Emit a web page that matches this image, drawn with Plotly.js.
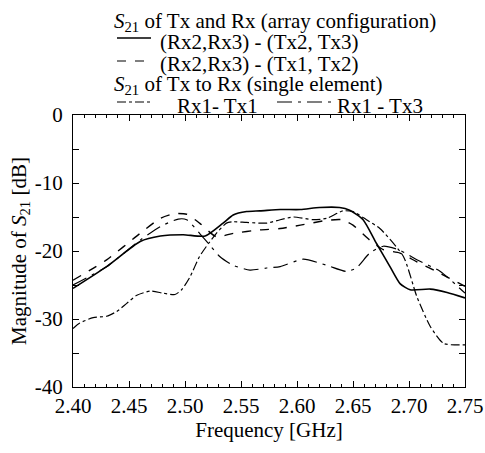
<!DOCTYPE html>
<html>
<head>
<meta charset="utf-8">
<script src="https://cdn.plot.ly/plotly-3.0.1.min.js"></script>
<style>html,body{margin:0;padding:0;background:#fff;}</style>
</head>
<body>
<div id="chart"></div>
<script>
// Frequency [GHz] and magnitudes [dB]
const freqTx23 = [2.400, 2.430, 2.460, 2.478, 2.4985, 2.518, 2.534, 2.543, 2.555, 2.567, 2.585, 2.603, 2.620, 2.638, 2.647, 2.659, 2.671, 2.683, 2.692, 2.701, 2.719, 2.734, 2.750];
const magTx23  = [-25.5, -22.3, -18.6, -17.8, -17.6, -17.8, -15.9, -14.7, -14.2, -14.1, -13.9, -13.9, -13.6, -13.6, -14.0, -15.4, -18.9, -22.3, -24.8, -25.7, -25.6, -26.1, -26.9];

const freqTx12 = [2.400, 2.430, 2.460, 2.478, 2.491, 2.5015, 2.513, 2.528, 2.543, 2.567, 2.585, 2.603, 2.6265, 2.640, 2.650, 2.665, 2.677, 2.692, 2.707, 2.728, 2.750];
const magTx12  = [-24.3, -21.3, -17.4, -15.2, -14.5, -14.6, -15.9, -17.9, -17.4, -16.9, -16.7, -16.2, -15.5, -15.4, -16.2, -18.4, -19.8, -20.3, -21.6, -23.3, -25.2];

const freqRx1Tx1 = [2.400, 2.406, 2.418, 2.430, 2.439, 2.448, 2.457, 2.469, 2.4806, 2.491, 2.497, 2.5045, 2.513, 2.521, 2.528, 2.537, 2.543, 2.555, 2.573, 2.585, 2.597, 2.6146, 2.6265, 2.641, 2.650, 2.662, 2.674, 2.695, 2.707, 2.719, 2.731, 2.750];
const magRx1Tx1  = [-31.4, -30.6, -29.8, -29.6, -28.9, -27.7, -26.5, -25.9, -26.2, -26.4, -25.7, -23.8, -20.8, -18.9, -17.4, -15.9, -15.7, -15.8, -15.9, -15.4, -15.0, -15.4, -15.2, -14.1, -14.2, -15.4, -16.7, -20.8, -26.7, -31.1, -33.6, -33.8];

const freqRx1Tx3 = [2.400, 2.430, 2.460, 2.478, 2.494, 2.5015, 2.513, 2.521, 2.531, 2.543, 2.558, 2.573, 2.585, 2.6056, 2.6265, 2.644, 2.653, 2.665, 2.677, 2.692, 2.707, 2.728, 2.750];
const magRx1Tx3  = [-25.0, -22.3, -18.4, -16.4, -15.3, -15.4, -17.4, -18.9, -20.8, -22.1, -22.8, -22.5, -22.3, -21.2, -22.1, -23.0, -22.5, -20.3, -19.3, -19.9, -21.3, -23.0, -26.2];

const xTickVals = [2.40, 2.45, 2.50, 2.55, 2.60, 2.65, 2.70, 2.75];
const xTickText = ["2.40", "2.45", "2.50", "2.55", "2.60", "2.65", "2.70", "2.75"];
const yTickVals = [0, -10, -20, -30, -40];
const yTickText = ["0", "-10", "-20", "-30", "-40"];

const FONT = "Liberation Serif";
const L = 73, R = 465, T = 115, B = 387;
const px = x => (x - L) / (R - L);
const py = y => (B - y) / (B - T);

function tr(x, y, dash, w) {
  return {x: x, y: y, type: "scatter", mode: "lines",
    line: {color: "#000", width: w, dash: dash, shape: "spline", smoothing: 0.6}};
}

const data = [
  tr(freqTx23, magTx23, "solid", 1.6),
  tr(freqTx12, magTx12, "dash", 1.4),
  tr(freqRx1Tx1, magRx1Tx1, "dashdot", 1.2),
  tr(freqRx1Tx3, magRx1Tx3, "longdashdot", 1.2)
];

// legend rows: y is the top of each text line
const legendRows = [
  {text: "<i>S</i><sub>21</sub> of Tx and Rx (array configuration)", x: 112, y: 7},
  {text: "(Rx2,Rx3) - (Tx2, Tx3)", x: 158, y: 28},
  {text: "(Rx2,Rx3) - (Tx1, Tx2)", x: 158, y: 50},
  {text: "<i>S</i><sub>21</sub> of Tx to Rx (single element)", x: 112, y: 70},
  {text: "Rx1- Tx1", x: 175, y: 92},
  {text: "Rx1 - Tx3", x: 335, y: 92}
];
const annotations = legendRows.map(r => ({
  text: r.text, x: px(r.x), y: py(r.y), xref: "paper", yref: "paper",
  xanchor: "left", showarrow: false,
  font: {family: FONT, size: 21, color: "#000"}
}));

const sample = (x0, x1, y, dash, w) => ({
  type: "line", xref: "paper", yref: "paper",
  x0: px(x0), x1: px(x1), y0: py(y), y1: py(y),
  line: {color: "#000", width: w, dash: dash}
});
const shapes = [
  sample(117, 151, 38, "solid", 1.6),
  sample(117, 151, 61, "dash", 1.2),
  sample(117, 150, 102, "dashdot", 1.2),
  sample(277, 331, 102, "longdashdot", 1.2)
];

const layout = {
  width: 485, height: 453,
  margin: {l: L, r: 485 - R, t: T, b: 453 - B},
  showlegend: false,
  xaxis: {
    range: [2.40, 2.75], tickvals: xTickVals, ticktext: xTickText,
    ticks: "inside", ticklen: 6, tickcolor: "#000",
    minor: {dtick: 0.01, ticks: "inside", ticklen: 3, tickcolor: "#000"},
    showline: true, linecolor: "#000", mirror: "ticks",
    showgrid: false, zeroline: false,
    tickfont: {family: FONT, size: 21, color: "#000"},
    title: {text: "Frequency [GHz]", font: {family: FONT, size: 21, color: "#000"}, standoff: 5}
  },
  yaxis: {
    range: [-40, 0], tickvals: yTickVals, ticktext: yTickText,
    ticks: "inside", ticklen: 6, tickcolor: "#000",
    minor: {dtick: 5, ticks: "inside", ticklen: 6, tickcolor: "#000"},
    showline: true, linecolor: "#000", mirror: "ticks",
    showgrid: false, zeroline: false, ticklabelstandoff: 5,
    tickfont: {family: FONT, size: 21, color: "#000"},
    title: {text: "Magnitude of <i>S</i><sub>21</sub> [dB]", font: {family: FONT, size: 21, color: "#000"}, standoff: 2}
  },
  annotations: annotations,
  shapes: shapes
};

Plotly.newPlot("chart", data, layout, {staticPlot: true});
</script>
</body>
</html>
